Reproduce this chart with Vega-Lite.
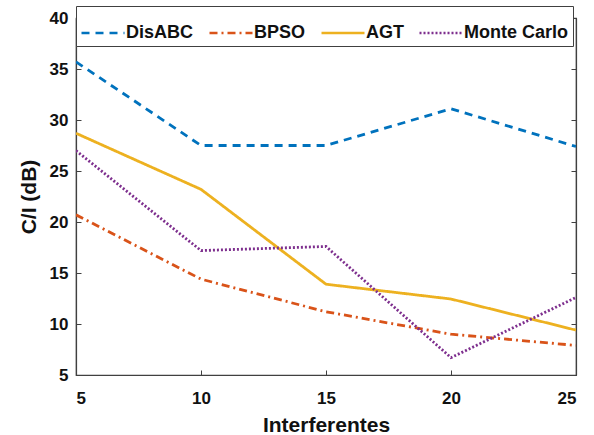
{
  "$schema": "https://vega.github.io/schema/vega-lite/v6.json",
  "width": 500,
  "height": 357,
  "autosize": {"type": "none"},
  "padding": {"left": 76, "top": 18, "right": 18, "bottom": 60},
  "background": "white",
  "config": {
    "font": "Liberation Sans",
    "view": {"stroke": "#404040", "strokeWidth": 1.2},
    "axis": {
      "grid": false,
      "domainColor": "#404040",
      "domainWidth": 1.2,
      "tickColor": "#404040",
      "tickSize": -5,
      "labelFont": "Liberation Sans",
      "labelFontWeight": "bold",
      "labelFontSize": 17,
      "labelColor": "#111111",
      "titleFont": "Liberation Sans",
      "titleFontWeight": "bold",
      "titleFontSize": 21,
      "titleColor": "#111111"
    }
  },
  "data": {
    "values": [
      {"n": 5, "ci": 35.7, "alg": "DisABC"},
      {"n": 10, "ci": 27.5, "alg": "DisABC"},
      {"n": 15, "ci": 27.5, "alg": "DisABC"},
      {"n": 20, "ci": 31.1, "alg": "DisABC"},
      {"n": 25, "ci": 27.4, "alg": "DisABC"},
      {"n": 5, "ci": 20.7, "alg": "BPSO"},
      {"n": 10, "ci": 14.4, "alg": "BPSO"},
      {"n": 15, "ci": 11.2, "alg": "BPSO"},
      {"n": 20, "ci": 9.0, "alg": "BPSO"},
      {"n": 25, "ci": 7.9, "alg": "BPSO"},
      {"n": 5, "ci": 28.7, "alg": "AGT"},
      {"n": 10, "ci": 23.2, "alg": "AGT"},
      {"n": 15, "ci": 13.9, "alg": "AGT"},
      {"n": 20, "ci": 12.45, "alg": "AGT"},
      {"n": 25, "ci": 9.4, "alg": "AGT"},
      {"n": 5, "ci": 27.0, "alg": "Monte Carlo"},
      {"n": 10, "ci": 17.2, "alg": "Monte Carlo"},
      {"n": 15, "ci": 17.6, "alg": "Monte Carlo"},
      {"n": 20, "ci": 6.7, "alg": "Monte Carlo"},
      {"n": 25, "ci": 12.6, "alg": "Monte Carlo"}
    ]
  },
  "resolve": {"axis": {"x": "independent", "y": "independent"}},
  "layer": [
    {
      "mark": {"type": "line", "strokeWidth": 2.8, "clip": true},
      "encoding": {
        "x": {
          "field": "n", "type": "quantitative",
          "scale": {"domain": [5, 25], "nice": false, "zero": false},
          "axis": {"values": [5, 10, 15, 20, 25], "title": "Interferentes", "labelPadding": 20, "titlePadding": 8}
        },
        "y": {
          "field": "ci", "type": "quantitative",
          "scale": {"domain": [5, 40], "nice": false, "zero": false},
          "axis": {"values": [5, 10, 15, 20, 25, 30, 35, 40], "title": "C/I (dB)", "labelPadding": 13, "titlePadding": 10}
        },
        "color": {
          "field": "alg", "type": "nominal",
          "scale": {"domain": ["DisABC", "BPSO", "AGT", "Monte Carlo"], "range": ["#0072BD", "#D95319", "#EDB120", "#7E2F8E"]},
          "legend": {
            "title": null,
            "orient": "none",
            "legendX": 0,
            "legendY": -12,
            "direction": "horizontal",
            "symbolType": "stroke",
            "symbolSize": 1849,
            "symbolStrokeWidth": 2.5,
            "labelFont": "Liberation Sans",
            "labelFontWeight": "bold",
            "labelFontSize": 18,
            "labelColor": "#111111",
            "labelOffset": 0,
            "columnPadding": 10,
            "padding": 4,
            "strokeColor": "#404040",
            "fillColor": "white"
          }
        },
        "strokeDash": {
          "field": "alg", "type": "nominal",
          "scale": {"domain": ["DisABC", "BPSO", "AGT", "Monte Carlo"], "range": [[8, 6], [8, 4, 2, 4], [1, 0], [2, 2]]},
          "legend": {
            "title": null,
            "orient": "none",
            "legendX": 0,
            "legendY": -12,
            "direction": "horizontal",
            "symbolType": "stroke",
            "symbolSize": 1849,
            "symbolStrokeWidth": 2.5,
            "labelFont": "Liberation Sans",
            "labelFontWeight": "bold",
            "labelFontSize": 18,
            "labelColor": "#111111",
            "labelOffset": 0,
            "columnPadding": 10,
            "padding": 4,
            "strokeColor": "#404040",
            "fillColor": "white"
          }
        }
      }
    },
    {
      "mark": {"type": "line", "opacity": 0},
      "encoding": {
        "x": {"field": "n", "type": "quantitative", "axis": {"orient": "top", "values": [5, 10, 15, 20, 25], "labels": false, "title": null}},
        "y": {"field": "ci", "type": "quantitative", "axis": {"orient": "right", "values": [5, 10, 15, 20, 25, 30, 35, 40], "labels": false, "title": null}},
        "detail": {"field": "alg", "type": "nominal"}
      }
    }
  ]
}
